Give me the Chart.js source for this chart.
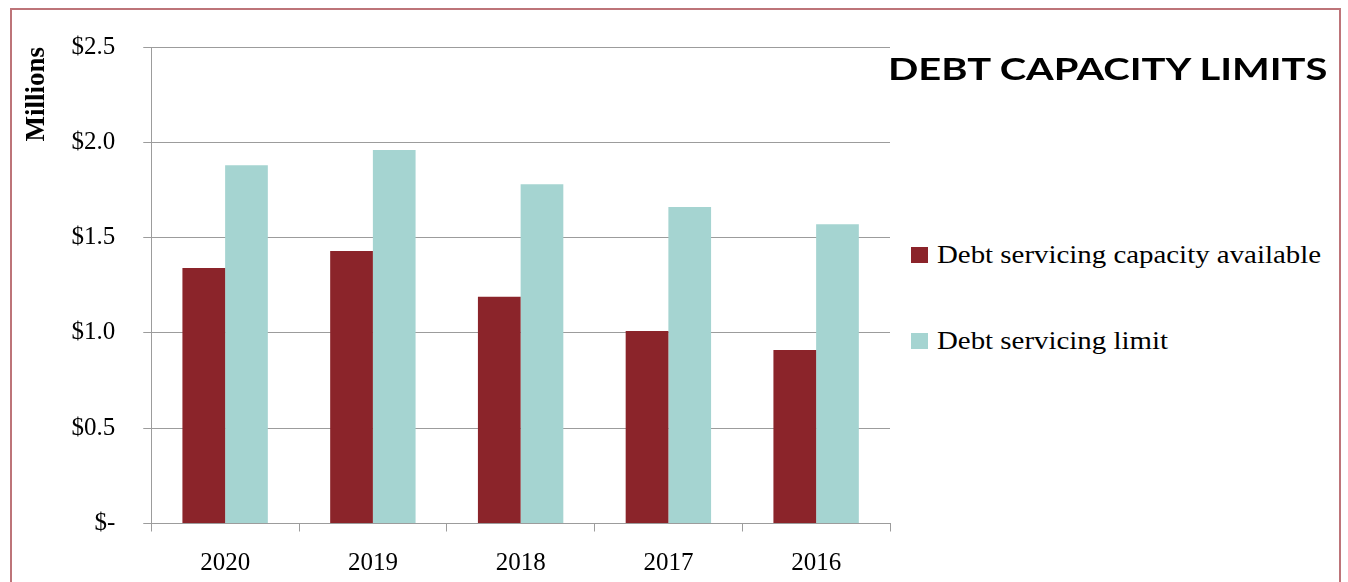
<!DOCTYPE html>
<html>
<head>
<meta charset="utf-8">
<script src="https://cdn.jsdelivr.net/npm/chart.js@4.4.1/dist/chart.umd.min.js"></script>
<style>
  html, body { margin: 0; padding: 0; background: #fff; overflow: hidden; width: 1348px; height: 582px; }
  #frame {
    position: absolute; left: 10px; top: 8px;
    width: 1327px; height: 600px;
    border: 2px solid #bd7479;
  }
  #wrap { position: absolute; left: 0; top: 0; width: 900px; height: 600px; }
  #title {
    position: absolute; left: 888px; top: 53px;
    font: bold 30px Lato, sans-serif; line-height: 30px;
    color: #000; white-space: nowrap;
    transform: scaleX(1.33); transform-origin: left center;
  }
  #legend {
    position: absolute; left: 911px; top: 239px;
    font: 25px 'Liberation Serif', serif;
    color: #000; white-space: nowrap;
  }
  #legend .item { display: flex; align-items: center; height: 32px; margin-bottom: 54px; }
  #legend .swatch { width: 17px; height: 16px; margin-right: 9px; flex: none; }
  #legend .text { display: inline-block; transform: scaleX(1.155); transform-origin: left center; }
</style>
</head>
<body>
<div id="frame"></div>
<div id="wrap"><canvas id="debtChart"></canvas></div>
<div id="title">DEBT CAPACITY LIMITS</div>
<div id="legend"></div>
<script>
// values in millions of dollars
const years = ['2020', '2019', '2018', '2017', '2016'];
const capacityAvailable = [1.34, 1.43, 1.19, 1.01, 0.91];
const servicingLimit = [1.88, 1.96, 1.78, 1.66, 1.57];
const seriesNames = ['Debt servicing capacity available', 'Debt servicing limit'];
const seriesColors = ['#8b242a', '#a5d4d1'];
const yMax = 2.5;
const yStep = 0.5;

const serif = "'Liberation Serif', 'DejaVu Serif', serif";
const gridGray = '#9c9c9c';

const ctx = document.getElementById('debtChart').getContext('2d');
const chart = new Chart(ctx, {
  type: 'bar',
  data: {
    labels: years,
    datasets: [{
      label: seriesNames[0],
      data: capacityAvailable,
      backgroundColor: seriesColors[0],
      borderWidth: 0
    }, {
      label: seriesNames[1],
      data: servicingLimit,
      backgroundColor: seriesColors[1],
      borderWidth: 0
    }]
  },
  options: {
    responsive: true,
    maintainAspectRatio: false,
    animation: false,
    layout: {
      padding: { left: 0, right: 10, top: 47, bottom: 4.5 }
    },
    datasets: {
      bar: { categoryPercentage: 0.578, barPercentage: 1.0 }
    },
    plugins: {
      tooltip: { enabled: false },
      legend: { display: false }
    },
    scales: {
      x: {
        grid: {
          display: true,
          drawOnChartArea: false,
          offset: true,
          color: gridGray,
          tickLength: 8
        },
        border: { color: gridGray },
        ticks: {
          color: '#000',
          padding: 17,
          font: { family: serif, size: 25 }
        }
      },
      y: {
        min: 0,
        max: yMax,
        grid: { color: gridGray, tickLength: 8 },
        border: { color: gridGray },
        ticks: {
          stepSize: yStep,
          color: '#000',
          padding: 28,
          font: { family: serif, size: 25 },
          callback: (v) => v === 0 ? '$-' : '$' + v.toFixed(1)
        },
        title: {
          display: true,
          text: 'Millions',
          align: 'end',
          color: '#000',
          font: { family: serif, size: 27, weight: 'bold', lineHeight: 0.5 },
          padding: { top: 30, bottom: 0 }
        }
      }
    }
  }
});

// html legend built from the chart's datasets
const legendEl = document.getElementById('legend');
chart.data.datasets.forEach((ds) => {
  const row = document.createElement('div');
  row.className = 'item';
  const swatch = document.createElement('span');
  swatch.className = 'swatch';
  swatch.style.background = ds.backgroundColor;
  const label = document.createElement('span');
  label.className = 'text';
  label.textContent = ds.label;
  row.append(swatch, label);
  legendEl.appendChild(row);
});
</script>
</body>
</html>
